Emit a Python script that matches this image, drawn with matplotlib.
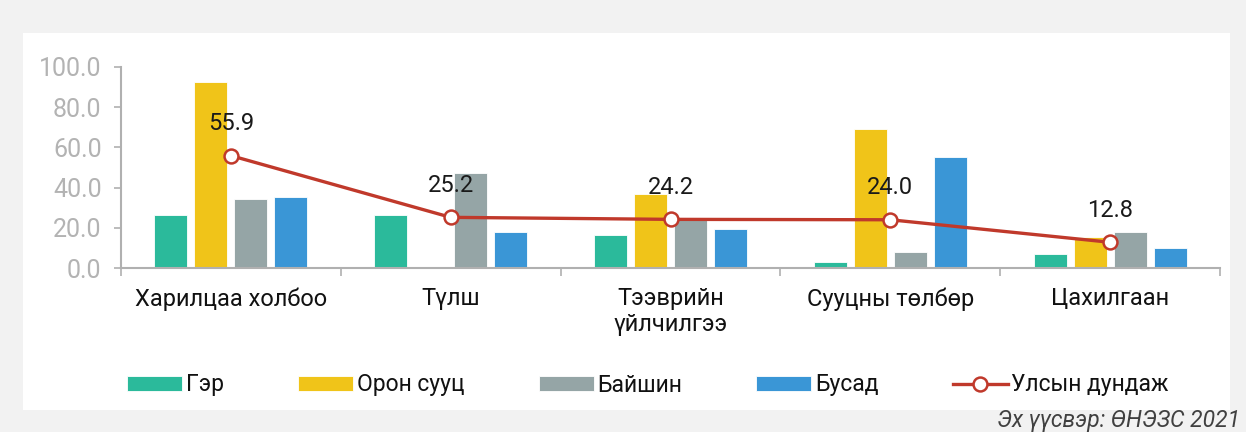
import matplotlib.pyplot as plt
import numpy as np
from matplotlib.patches import Rectangle

plt.rcParams['font.family'] = ['Roboto', 'DejaVu Sans']

categories = ['Харилцаа холбоо', 'Түлш', 'Тээврийн\nүйлчилгээ', 'Сууцны төлбөр', 'Цахилгаан']
ger = [26.4, 26.4, 16.4, 3.0, 7.0]
oron_suuts = [92.3, 0.5, 36.8, 69.2, 15.4]
baishin = [34.3, 47.3, 24.0, 8.0, 18.0]
busad = [35.3, 17.9, 19.4, 55.2, 10.0]
average = [55.9, 25.2, 24.2, 24.0, 12.8]

series = [('Гэр', ger, '#2bba9b'),
          ('Орон сууц', oron_suuts, '#f0c419'),
          ('Байшин', baishin, '#95a5a6'),
          ('Бусад', busad, '#3a96d6')]

fig = plt.figure(figsize=(12.46, 4.32), dpi=100)
fig.patch.set_facecolor('#f2f2f2')
# white panel behind everything
fig.patches.append(Rectangle((23/1246, 1 - 410/432), (1230-23)/1246, (410-33)/432,
                             transform=fig.transFigure, facecolor='white',
                             edgecolor='none', zorder=-10))

ax = fig.add_axes([121/1246, 164/432, (1220-121)/1246, (365-164)/432])
ax.set_facecolor('none')

x = np.arange(len(categories))
w = 0.15
step = 0.182
for i, (name, vals, col) in enumerate(series):
    ax.bar(x + (i - 1.5) * step, vals, w, color=col, label=name,
           edgecolor='white', linewidth=0.6, zorder=2)

ax.plot(x, average, color='#c0392b', lw=2.4, marker='o', ms=10,
        mfc='white', mec='#c0392b', mew=1.8, label='Улсын дундаж', zorder=3)
for xi, v in zip(x, average):
    ax.annotate(f'{v:.1f}', (xi, v), xytext=(0, 23), textcoords='offset points',
                ha='center', va='center', fontsize=17, color='#1a1a1a', zorder=4)

ax.set_xlim(-0.5, len(categories) - 0.5)
ax.set_ylim(0, 100)
ax.set_yticks(np.arange(0, 101, 20))
ax.set_yticklabels([f'{t:.1f}' for t in np.arange(0, 101, 20)])
ax.tick_params(axis='y', colors='#b0b0b0', labelsize=18, length=5, width=1.2, pad=9)
ax.tick_params(axis='y', labelcolor='#b3b3b3')

ax.set_xticks(np.arange(-0.5, len(categories), 1.0))
ax.set_xticklabels([])
ax.set_xticks(x, minor=True)
ax.set_xticklabels(categories, minor=True)
ax.tick_params(axis='x', which='major', length=6, width=1.2, color='#b0b0b0')
ax.tick_params(axis='x', which='minor', length=0, labelsize=17, labelcolor='#111111', pad=14)
for lbl in ax.get_xticklabels(minor=True):
    lbl.set_verticalalignment('top')
    lbl.set_linespacing(1.15)

for s in ['top', 'right']:
    ax.spines[s].set_visible(False)
for s in ['left', 'bottom']:
    ax.spines[s].set_color('#b0b0b0')
    ax.spines[s].set_linewidth(1.5)

handles, labels = ax.get_legend_handles_labels()
order = [1, 2, 3, 4, 0]
leg = fig.legend([handles[i] for i in order], [labels[i] for i in order],
                 loc='center', bbox_to_anchor=(0.52, 1 - 385/432), ncol=5,
                 frameon=False, fontsize=16.5, handlelength=2.4, handleheight=0.65,
                 handletextpad=0.15, columnspacing=3.25)
for t in leg.get_texts():
    t.set_color('#111111')

fig.text(1240/1246, 1 - 421/432, 'Эх үүсвэр: ӨНЭЗС 2021', ha='right', va='center',
         fontsize=16.5, style='italic', color='#404040')

fig.savefig('out.png', dpi=100, facecolor=fig.get_facecolor())
